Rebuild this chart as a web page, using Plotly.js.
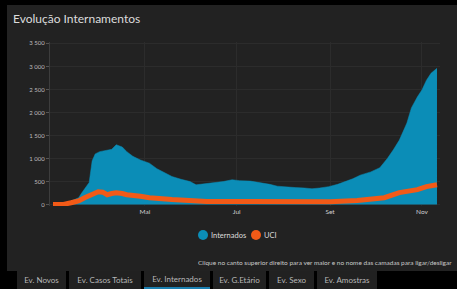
<!DOCTYPE html>
<html>
<head>
<meta charset="utf-8">
<script src="https://cdn.plot.ly/plotly-3.0.1.min.js"></script>
<style>
  html, body { margin:0; padding:0; background:#000; width:457px; height:289px; overflow:hidden; }
  #chart { position:absolute; left:7px; top:5px; width:450px; height:266px; }
  #tabs { position:absolute; left:0; top:271px; width:457px; height:18px; background:#000; }
  .tab { position:absolute; top:0; height:18px; background:#212121; color:#b8b8b8;
         font-family:"Lato","Open Sans",sans-serif; font-size:8px; line-height:18px; text-align:center; box-sizing:border-box; }
  .tab.active { border-bottom:2px solid #1b7fb0; line-height:17px; }
</style>
</head>
<body>
<div id="chart"></div>
<div id="tabs"></div>
<script>
// ---- data ----
const intDates = ["2020-03-01","2020-03-06","2020-03-09","2020-03-12","2020-03-15","2020-03-18","2020-03-20","2020-03-22","2020-03-25","2020-03-27","2020-03-29","2020-04-01","2020-04-05","2020-04-09","2020-04-12","2020-04-16","2020-04-19","2020-04-23","2020-04-28","2020-05-04","2020-05-09","2020-05-14","2020-05-19","2020-05-25","2020-05-31","2020-06-04","2020-06-10","2020-06-15","2020-06-22","2020-06-28","2020-07-03","2020-07-10","2020-07-18","2020-07-23","2020-07-28","2020-08-03","2020-08-09","2020-08-15","2020-08-20","2020-08-25","2020-08-31","2020-09-06","2020-09-11","2020-09-16","2020-09-21","2020-09-28","2020-10-04","2020-10-09","2020-10-13","2020-10-17","2020-10-22","2020-10-25","2020-10-29","2020-11-01","2020-11-04","2020-11-07","2020-11-11"];
const internados = [0,0,20,60,100,150,250,350,480,950,1100,1150,1180,1200,1300,1250,1150,1050,970,900,780,700,610,550,500,430,450,470,500,540,520,510,475,440,400,380,370,360,345,360,390,440,500,560,640,710,800,1000,1190,1400,1770,2100,2340,2490,2700,2850,2960];

const uciDates = ["2020-03-01","2020-03-08","2020-03-13","2020-03-18","2020-03-22","2020-03-26","2020-03-31","2020-04-03","2020-04-06","2020-04-09","2020-04-12","2020-04-16","2020-04-19","2020-04-28","2020-05-04","2020-05-19","2020-05-31","2020-06-11","2020-07-10","2020-08-05","2020-09-01","2020-09-19","2020-09-28","2020-10-07","2020-10-17","2020-10-29","2020-11-04","2020-11-11"];
const uci = [0,5,40,80,150,220,280,270,215,240,255,240,215,180,150,110,80,70,70,55,60,90,110,150,260,325,390,430];

const yTickVals = [0,500,1000,1500,2000,2500,3000,3500];
const yTickText = ["0","500","1 000","1 500","2 000","2 500","3 000","3 500"];
const xTickVals = ["2020-05-01","2020-07-01","2020-09-01","2020-11-01"];
const xTickText = ["Mai","Jul","Set","Nov"];
const seriesNames = ["Internados","UCI"];
const tabNames = ["Ev. Novos","Ev. Casos Totais","Ev. Internados","Ev. G.Etário","Ev. Sexo","Ev. Amostras"];

// ---- chart ----
const BLUE = "#0b8db7", ORANGE = "#f25a17";
const FONT = "Lato, 'Open Sans', sans-serif";
const traces = [
  {x:intDates, y:internados, type:"scatter", mode:"lines", fill:"tozeroy", name:seriesNames[0],
   fillcolor:BLUE, line:{color:BLUE, width:0.5, shape:"linear"}, showlegend:false, hoverinfo:"skip"},
  {x:uciDates, y:uci, type:"scatter", mode:"lines", name:seriesNames[1],
   line:{color:ORANGE, width:5}, showlegend:false, hoverinfo:"skip"}
];

// custom compact legend (circles + labels) below the plot
const plotL = 43, plotR = 17, plotT = 37, plotB = 65, W = 450, H = 266;
const pw = W - plotL - plotR, ph = H - plotT - plotB;
const px2x = absX => (absX - 7 - plotL) / pw;          // absolute page x -> paper x
const py2y = absY => (H - plotB - (absY - 5)) / ph;    // absolute page y -> paper y
const legendItems = [{name:seriesNames[0], color:BLUE, cx:203}, {name:seriesNames[1], color:ORANGE, cx:256}];
const legendY = py2y(235);
const shapes = legendItems.map(it => ({
  type:"circle", xref:"paper", yref:"paper", xsizemode:"pixel", ysizemode:"pixel",
  xanchor:px2x(it.cx), yanchor:legendY, x0:-5, x1:5, y0:-5, y1:5,
  fillcolor:it.color, line:{width:0}
}));
const annotations = legendItems.map(it => ({
  text:it.name, xref:"paper", yref:"paper", x:px2x(it.cx + 6), xanchor:"left", y:legendY, yanchor:"middle",
  showarrow:false, font:{family:FONT, size:7.5, color:"#dddddd"}
}));
annotations.push({text:"Clique no canto superior direito para ver maior e no nome das camadas para ligar/desligar",
  xref:"paper", yref:"paper", x:px2x(454), xanchor:"right", y:py2y(262), yanchor:"middle",
  showarrow:false, font:{family:FONT, size:6.5, color:"#c8c8c8"}});

const layout = {
  width:W, height:H,
  paper_bgcolor:"#222222", plot_bgcolor:"#222222",
  margin:{l:plotL, r:plotR, t:plotT, b:plotB},
  title:{text:"Evolução Internamentos", x:6/W, xref:"container", xanchor:"left",
         y:1-14/H, yref:"container", yanchor:"middle",
         font:{family:FONT, size:12, color:"#dcdcdc"}},
  xaxis:{type:"date", range:["2020-02-28","2020-11-13"], tickvals:xTickVals, ticktext:xTickText,
         showgrid:true, gridcolor:"#2c2c2c", gridwidth:1, zeroline:false, showline:false,
         ticks:"", tickfont:{family:FONT, size:6.5, color:"#cfcfcf"}},
  yaxis:{range:[-30,3530], tickvals:yTickVals, ticktext:yTickText,
         showgrid:true, gridcolor:"#2c2c2c", gridwidth:1, zeroline:false,
         showline:true, linecolor:"#3d3d3d", linewidth:1, ticks:"outside", ticklen:3, tickcolor:"#555",
         tickfont:{family:FONT, size:6, color:"#bdbdbd"}},
  showlegend:false,
  shapes:shapes,
  annotations:annotations
};
Plotly.newPlot("chart", traces, layout, {staticPlot:true, displayModeBar:false});

// ---- tabs ----
const tabPos = [[17,49],[69,72],[144,66],[213,53],[269,45],[317,60]];
const tabsEl = document.getElementById("tabs");
tabNames.forEach((t,i)=>{
  const d = document.createElement("div");
  d.className = "tab" + (i===2 ? " active" : "");
  d.style.left = tabPos[i][0]+"px"; d.style.width = tabPos[i][1]+"px";
  d.textContent = t;
  tabsEl.appendChild(d);
});
</script>
</body>
</html>
